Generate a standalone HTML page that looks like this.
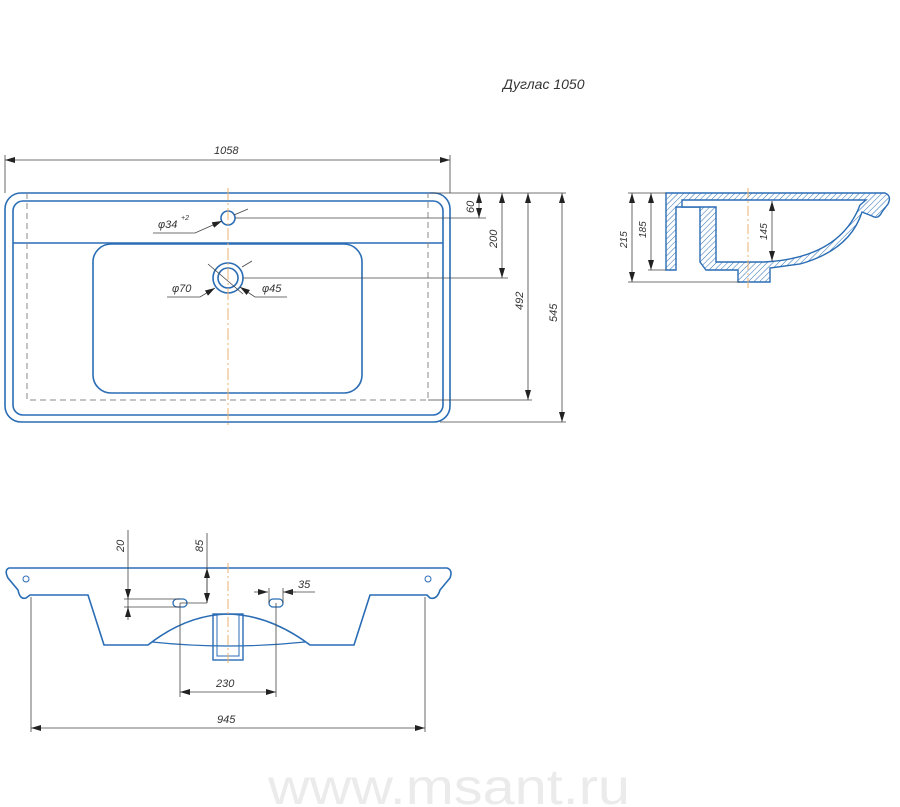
<!DOCTYPE html>
<html><head><meta charset="utf-8"><style>
html,body{margin:0;padding:0;background:#fff;}
svg{display:block;}
text{font-family:"Liberation Sans","DejaVu Sans",sans-serif;font-style:italic;fill:#333;}
</style></head><body>
<svg width="900" height="807" viewBox="0 0 900 807" xmlns="http://www.w3.org/2000/svg">
<defs>
<marker id="a" viewBox="0 0 10 6" refX="10" refY="3" markerWidth="10" markerHeight="6" orient="auto-start-reverse" markerUnits="userSpaceOnUse"><path d="M0,0 L10,3 L0,6 z" fill="#222"/></marker>
<pattern id="h" width="4" height="4" patternUnits="userSpaceOnUse" patternTransform="rotate(45)"><line x1="0" y1="0" x2="0" y2="4" stroke="#2a6db5" stroke-width="1"/></pattern>
</defs>
<text x="503" y="89" font-size="14">Дуглас 1050</text>

<!-- TOP VIEW -->
<g fill="none" stroke="#2a6db5" stroke-width="1.6">
<rect x="5" y="193" width="445" height="229" rx="16"/>
<rect x="13" y="201" width="430" height="214" rx="10"/>
<line x1="13" y1="243" x2="443" y2="243"/>
<rect x="93" y="244" width="269" height="149" rx="18"/>
<circle cx="228" cy="218" r="7"/>
<circle cx="228" cy="278" r="15"/>
<circle cx="228" cy="278" r="10"/>
</g>
<path d="M27,193 V400 H428 V193" fill="none" stroke="#888" stroke-width="1" stroke-dasharray="6,4"/>
<line x1="228" y1="188" x2="228" y2="428" stroke="#e8b070" stroke-width="1" stroke-dasharray="12,3,2,3"/>
<g stroke="#444" stroke-width="0.8" fill="none">
<line x1="5" y1="155" x2="5" y2="193"/><line x1="450" y1="155" x2="450" y2="193"/>
<line x1="5" y1="160" x2="450" y2="160" marker-start="url(#a)" marker-end="url(#a)"/>
<line x1="430" y1="193" x2="566" y2="193"/>
<line x1="235" y1="218" x2="486" y2="218"/>
<line x1="243" y1="278" x2="508" y2="278"/>
<line x1="428" y1="400" x2="532" y2="400"/>
<line x1="440" y1="422" x2="566" y2="422"/>
<line x1="479" y1="193" x2="479" y2="218" marker-start="url(#a)" marker-end="url(#a)"/>
<line x1="502" y1="193" x2="502" y2="278" marker-start="url(#a)" marker-end="url(#a)"/>
<line x1="528" y1="193" x2="528" y2="400" marker-start="url(#a)" marker-end="url(#a)"/>
<line x1="562" y1="193" x2="562" y2="422" marker-start="url(#a)" marker-end="url(#a)"/>
<path d="M153,233 H195 L222,221" marker-end="url(#a)"/>
<line x1="234" y1="215" x2="248" y2="209"/>
<path d="M167,297 H200 L215,288" marker-end="url(#a)"/>
<line x1="208" y1="264" x2="243" y2="294"/>
<path d="M287,297 H255 L240,287" marker-end="url(#a)"/>
<line x1="242" y1="267" x2="252" y2="261"/>
</g>
<text x="214" y="154" font-size="11">1058</text>
<text x="158" y="228" font-size="11">φ34</text><text x="181" y="220" font-size="7">+2</text>
<text x="172" y="292" font-size="11">φ70</text>
<text x="262" y="292" font-size="11">φ45</text>
<text transform="translate(474,213) rotate(-90)" font-size="11">60</text>
<text transform="translate(497,248) rotate(-90)" font-size="11">200</text>
<text transform="translate(523,310) rotate(-90)" font-size="11">492</text>
<text transform="translate(557,322) rotate(-90)" font-size="11">545</text>

<!-- SIDE VIEW -->
<g stroke="#2a6db5" stroke-width="1.4">
<path d="M666,193 H885 Q892,196 888,204 L882,212 Q878,220 872,216 L862,212 Q850,250 800,264 L770,268 V282 H738 V270 H706 L700,262 V207 H676 V270 H666 Z" fill="url(#h)"/>
<path d="M682,207 H716 V262 H764 Q840,258 860,205 L866,200 H682 Z" fill="#fff"/>
</g>
<line x1="748" y1="188" x2="748" y2="288" stroke="#e8b070" stroke-width="1" stroke-dasharray="10,3,2,3"/>
<g stroke="#444" stroke-width="0.8" fill="none">
<line x1="628" y1="193" x2="666" y2="193"/>
<line x1="628" y1="282" x2="740" y2="282"/>
<line x1="648" y1="270" x2="666" y2="270"/>
<line x1="632" y1="193" x2="632" y2="282" marker-start="url(#a)" marker-end="url(#a)"/>
<line x1="651" y1="193" x2="651" y2="270" marker-start="url(#a)" marker-end="url(#a)"/>
<line x1="772" y1="201" x2="772" y2="261" marker-start="url(#a)" marker-end="url(#a)"/>
</g>
<text transform="translate(627,248) rotate(-90)" font-size="10">215</text>
<text transform="translate(646,238) rotate(-90)" font-size="10">185</text>
<text transform="translate(767,240) rotate(-90)" font-size="10">145</text>

<!-- BOTTOM VIEW -->
<path d="M9,568 H447 Q453,570 450,578 L440,590 Q437,600 430,598 L427,595 H370 L354,645 H310 Q270,615 228,614 Q186,615 148,645 H104 L88,595 H30 L26,598 Q20,600 18,590 L8,578 Q4,570 9,568 Z" fill="none" stroke="#2a6db5" stroke-width="1.6"/>
<path d="M152,642 Q228,650 305,642" fill="none" stroke="#2a6db5" stroke-width="1.2"/>
<rect x="213" y="614" width="30" height="46" fill="none" stroke="#2a6db5" stroke-width="1.4"/>
<rect x="217" y="614" width="22" height="42" fill="none" stroke="#2a6db5" stroke-width="1"/>
<rect x="173" y="599" width="14" height="8" rx="4" fill="none" stroke="#2a6db5" stroke-width="1.3"/>
<rect x="269" y="599" width="14" height="8" rx="4" fill="none" stroke="#2a6db5" stroke-width="1.3"/>
<circle cx="26" cy="579" r="3" fill="none" stroke="#2a6db5"/>
<circle cx="428" cy="579" r="3" fill="none" stroke="#2a6db5"/>
<line x1="228" y1="563" x2="228" y2="665" stroke="#e8b070" stroke-width="1" stroke-dasharray="10,3,2,3"/>
<g stroke="#444" stroke-width="0.8" fill="none">
<line x1="128" y1="530" x2="128" y2="620"/>
<line x1="207" y1="533" x2="207" y2="603"/>
<line x1="128" y1="590" x2="128" y2="599" marker-end="url(#a)"/>
<line x1="128" y1="616" x2="128" y2="607" marker-end="url(#a)"/>
<line x1="124" y1="599" x2="180" y2="599"/>
<line x1="124" y1="607" x2="180" y2="607"/>
<line x1="207" y1="568" x2="207" y2="603" marker-start="url(#a)" marker-end="url(#a)"/>
<line x1="180" y1="603" x2="207" y2="603"/>
<line x1="254" y1="592" x2="268" y2="592" marker-end="url(#a)"/>
<line x1="296" y1="592" x2="283" y2="592" marker-end="url(#a)"/>
<line x1="283" y1="592" x2="315" y2="592"/>
<line x1="269" y1="588" x2="269" y2="603"/><line x1="283" y1="588" x2="283" y2="603"/>
<line x1="180" y1="603" x2="180" y2="697"/><line x1="276" y1="603" x2="276" y2="697"/>
<line x1="180" y1="692" x2="276" y2="692" marker-start="url(#a)" marker-end="url(#a)"/>
<line x1="31" y1="597" x2="31" y2="732"/><line x1="425" y1="597" x2="425" y2="732"/>
<line x1="31" y1="728" x2="425" y2="728" marker-start="url(#a)" marker-end="url(#a)"/>
</g>
<text transform="translate(124,552) rotate(-90)" font-size="11">20</text>
<text transform="translate(203,552) rotate(-90)" font-size="11">85</text>
<text x="298" y="588" font-size="11">35</text>
<text x="216" y="687" font-size="11">230</text>
<text x="217" y="723" font-size="11">945</text>

<text x="268" y="804" font-size="50" textLength="362" lengthAdjust="spacingAndGlyphs" style="font-style:normal;fill:#ebebeb">www.msant.ru</text>
</svg>
</body></html>
